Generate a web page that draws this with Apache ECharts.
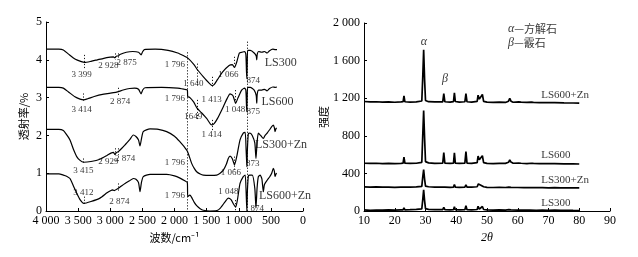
<!DOCTYPE html>
<html><head><meta charset="utf-8">
<script src="https://cdn.jsdelivr.net/npm/echarts@6/dist/echarts.min.js"></script>
<style>html,body{margin:0;padding:0;background:#fff}#c{width:638px;height:257px}</style>
</head><body><div id="c"></div>
<script>
// ---------- FTIR (left) ----------
const irXTicks = [0, 500, 1000, 1500, 2000, 2500, 3000, 3500, 4000];
const irYTicks = [0, 1, 2, 3, 4, 5];
const irLS300 = [[4000,4.28],[3800,4.28],[3730,4.26],[3650,4.15],[3550,4.02],[3450,3.95],[3399,3.93],[3300,3.96],[3200,4.0],[3100,4.04],[3000,4.07],[2950,4.08],[2928,4.05],[2900,4.1],[2875,4.1],[2850,4.14],[2750,4.2],[2650,4.22],[2560,4.2],[2520,4.13],[2500,4.2],[2470,4.27],[2300,4.28],[2100,4.25],[1950,4.18],[1850,4.1],[1796,4.05],[1700,3.88],[1640,3.73],[1550,3.55],[1470,3.4],[1413,3.32],[1380,3.35],[1330,3.48],[1250,3.68],[1150,3.85],[1100,3.87],[1066,3.8],[1030,3.95],[990,4.18],[950,4.2],[910,4.22],[890,4.15],[880,3.7],[874,3.5],[868,3.9],[860,4.25],[820,4.25],[760,4.18],[728,4.1],[720,4.0],[712,4.15],[690,4.22],[640,4.2],[600,4.22],[560,4.18],[520,4.24],[470,4.28],[430,4.27],[405,4.27]];
const irLS600 = [[4000,3.27],[3800,3.27],[3730,3.25],[3650,3.15],[3550,3.02],[3470,2.96],[3414,2.94],[3350,2.97],[3250,3.03],[3100,3.09],[2950,3.13],[2874,3.16],[2800,3.2],[2700,3.24],[2620,3.25],[2560,3.22],[2520,3.1],[2495,3.2],[2460,3.26],[2200,3.27],[1950,3.25],[1850,3.22],[1800,3.2],[1794,3.03],[1760,3.0],[1700,2.88],[1649,2.72],[1580,2.6],[1500,2.45],[1440,2.3],[1414,2.28],[1380,2.32],[1330,2.45],[1240,2.76],[1180,2.98],[1136,3.1],[1090,3.05],[1048,2.85],[1010,3.0],[955,3.2],[910,3.25],[890,3.2],[880,2.8],[875,2.63],[869,3.0],[860,3.27],[820,3.27],[760,3.2],[728,3.05],[720,2.85],[712,3.1],[690,3.2],[640,3.2],[600,3.22],[560,3.18],[520,3.24],[470,3.28],[430,3.27],[405,3.28]];
const irLS300Zn = [[4000,2.16],[3800,2.16],[3730,2.13],[3680,2.02],[3627,1.88],[3570,1.62],[3522,1.44],[3470,1.34],[3415,1.29],[3300,1.31],[3160,1.37],[3050,1.47],[2990,1.53],[2950,1.55],[2929,1.5],[2900,1.55],[2874,1.57],[2820,1.66],[2770,1.75],[2700,1.88],[2641,2.01],[2600,1.97],[2560,1.88],[2537,1.72],[2515,1.9],[2486,2.1],[2381,2.17],[2250,2.16],[2122,2.1],[2000,1.98],[1914,1.83],[1850,1.7],[1796,1.57],[1733,1.26],[1690,1.12],[1655,1.04],[1600,0.98],[1552,0.95],[1450,0.94],[1343,0.95],[1290,1.0],[1240,1.08],[1190,1.25],[1163,1.39],[1136,1.45],[1100,1.38],[1066,1.22],[1030,1.45],[980,1.88],[930,2.06],[900,2.08],[885,1.6],[873,1.17],[866,1.6],[850,2.05],[825,2.06],[790,2.0],[750,1.8],[732,1.39],[715,1.8],[695,2.06],[660,2.0],[617,1.92],[590,2.0],[555,2.07],[520,2.15],[487,2.23],[462,2.27],[445,2.2],[436,2.1],[420,2.18],[410,2.2]];
const irLS600Zn = [[4000,0.98],[3800,0.98],[3730,0.95],[3680,0.92],[3627,0.86],[3570,0.65],[3522,0.47],[3470,0.3],[3412,0.2],[3300,0.25],[3160,0.34],[3050,0.48],[3004,0.53],[2960,0.56],[2940,0.54],[2874,0.6],[2820,0.67],[2770,0.73],[2700,0.8],[2641,0.86],[2600,0.84],[2560,0.75],[2537,0.51],[2515,0.75],[2486,0.91],[2381,0.97],[2122,0.97],[2000,0.93],[1914,0.87],[1840,0.8],[1800,0.75],[1794,0.38],[1760,0.42],[1733,0.36],[1690,0.22],[1655,0.14],[1600,0.06],[1552,0.02],[1450,0.0],[1343,0.01],[1290,0.07],[1210,0.25],[1163,0.34],[1120,0.3],[1080,0.18],[1048,0.1],[1020,0.3],[980,0.73],[930,0.91],[900,0.95],[885,0.5],[874,0.0],[866,0.5],[850,0.93],[825,0.95],[790,0.95],[750,0.6],[732,0.08],[715,0.6],[695,0.91],[667,0.95],[640,0.85],[617,0.51],[600,0.7],[555,0.82],[520,0.9],[487,1.0],[462,1.13],[445,1.05],[436,0.91],[420,0.98],[410,1.0]];
// dotted guide segments: [wavenumber, yFrom, yTo]
const irGuides = [[1796,4.2,0],[874,4.48,0],
  [3399,4.13,3.78],[2928,4.17,4.0],[2875,4.17,4.0],[1640,3.9,3.33],[1413,3.55,3.29],[1066,4.08,3.86],
  [3414,3.11,2.89],[2874,3.26,3.07],[1649,2.94,2.41],[1414,2.41,2.14],[1048,3.2,2.85],
  [3415,1.39,1.26],[2929,1.66,1.48],[2874,1.66,1.48],[1066,1.44,1.08],
  [3412,0.38,0.16],[2874,0.73,0.51],[1048,0.29,0]];
// peak labels: [wavenumber, y, text, align]
const irPeakLabels = [
  [3444,3.6,'3 399','center'],[3030,3.84,'2 928','center'],[2744,3.92,'2 875','center'],[1837,3.86,'1 796','right'],[1707,3.38,'1 640','center'],[1421,2.94,'1 413','center'],[1163,3.6,'1 066','center'],[774,3.45,'874','center'],
  [3444,2.67,'3 414','center'],[2848,2.89,'2 874','center'],[1837,2.98,'1 796','right'],[1707,2.49,'1649','center'],[1421,2.01,'1 414','center'],[1058,2.67,'1 048','center'],[774,2.63,'875','center'],
  [3420,1.07,'3 415','center'],[3030,1.31,'2 929','center'],[2770,1.39,'2 874','center'],[1837,1.28,'1 796','right'],[1121,1.02,'1 066','center'],[783,1.26,'873','center'],
  [3420,0.48,'3 412','center'],[2859,0.26,'2 874','center'],[1837,0.40,'1 796','right'],[1163,0.51,'1 048','center'],[711,0.05,'874','center']];
const irSeriesLabels = [[347,3.92,'LS300'],[397,2.89,'LS600'],[342,1.75,'LS300+Zn'],[280,0.40,'LS600+Zn']];

// ---------- XRD (right) ----------
const xrdXTicks = [10,20,30,40,50,60,70,80,90];
const xrdYTicks = [0,400,800,1200,1600,2000];
const xrdLS300 = [[10,12],[11,10],[12,8],[14,10],[16,9],[18,12],[20,10],[22,12],[22.7,12],[23.0,35],[23.3,12],[25,14],[27,18],[28.8,22],[29.1,120],[29.4,225],[29.7,110],[30.0,25],[31,18],[33,14],[35.6,14],[35.95,40],[36.3,14],[38,12],[39.1,14],[39.4,45],[39.7,14],[41,12],[42.8,14],[43.15,55],[43.5,14],[45,12],[46.8,16],[47.1,50],[47.5,20],[48.1,22],[48.5,48],[48.9,16],[50,12],[52,10],[54,12],[56,10],[57.1,14],[57.4,28],[57.8,12],[60,10],[62,9],[64,10],[66,8],[68,9],[70,7],[72,9],[74,6],[76,8],[78,6],[80,5]];
const xrdLS300Zn = [[10,256],[12,254],[14,256],[16,253],[18,255],[20,252],[22,254],[22.7,254],[23.0,266],[23.3,254],[25,255],[27,256],[28.8,262],[29.1,360],[29.4,440],[29.7,340],[30,265],[31,258],[33,254],[35.6,254],[35.95,275],[36.3,254],[38,252],[39.1,254],[39.4,282],[39.7,254],[41,252],[42.8,254],[43.15,278],[43.5,254],[45,253],[46.8,258],[47.2,288],[47.6,272],[48.0,275],[48.4,288],[48.9,258],[50,252],[52,250],[54,252],[56,250],[57.1,254],[57.4,266],[57.8,252],[60,250],[62,249],[64,250],[66,248],[68,249],[70,247],[72,248],[74,246],[76,247],[78,245],[80,245]];
const xrdLS600 = [[10,508],[12,506],[14,508],[16,505],[18,507],[20,505],[22,507],[22.7,508],[23.0,572],[23.3,508],[25,506],[27,508],[28.8,518],[29.1,800],[29.4,1070],[29.7,780],[30,525],[31,512],[33,507],[35.6,508],[35.95,622],[36.3,508],[38,506],[39.1,510],[39.4,620],[39.7,510],[41,506],[42.8,510],[43.15,632],[43.5,510],[45,506],[46.8,515],[47.1,585],[47.5,545],[48.0,540],[48.5,588],[48.9,515],[50,506],[52,505],[54,506],[56,507],[57.0,518],[57.4,545],[57.8,520],[58.5,508],[60.3,510],[60.7,527],[61.1,508],[63,505],[64.4,508],[64.7,522],[65.1,506],[67,504],[70,503],[72,504],[75,502],[78,502],[80,500]];
const xrdLS600Zn = [[10,1165],[12,1160],[14,1162],[16,1158],[18,1160],[20,1157],[22,1160],[22.7,1162],[23.0,1225],[23.3,1162],[25,1158],[27,1160],[28.8,1170],[29.1,1420],[29.4,1715],[29.7,1400],[30,1175],[31,1163],[33,1160],[35.6,1160],[35.95,1250],[36.3,1162],[38,1158],[39.1,1163],[39.4,1258],[39.7,1165],[41,1158],[42.8,1162],[43.15,1250],[43.5,1162],[45,1158],[46.8,1166],[47.1,1232],[47.5,1190],[48.0,1195],[48.5,1240],[48.9,1166],[50,1158],[52,1156],[54,1158],[56,1155],[57.0,1168],[57.4,1198],[57.8,1168],[58.5,1157],[60.3,1160],[60.7,1180],[61.1,1158],[63,1155],[64.4,1158],[64.7,1170],[65.1,1155],[67,1153],[70,1152],[72,1153],[75,1150],[78,1149],[80,1147]];
const xrdSeriesLabels = [[75.4,1234,'LS600+Zn'],[72.4,596,'LS600'],[75.4,330,'LS300+Zn'],[72.4,88,'LS300']];
const xrdPhaseMarks = [[29.5,1801,'α'],[36.3,1401,'β']];
const xrdLegendText = [[56.8,1936,'α','—方解石'],[56.8,1784,'β','—霰石']];

const SERIF = '"Liberation Serif","DejaVu Serif","Noto Sans CJK SC",serif';
const CJK = '"Noto Sans CJK SC","Liberation Serif",serif';
function thou(v){ v = String(v); return v.length > 3 ? v.slice(0, v.length-3) + ' ' + v.slice(-3) : v; }

const chart = echarts.init(document.getElementById('c'), null, {renderer:'canvas'});
const axisCommon = {
  axisLine:{show:true,onZero:false,lineStyle:{color:'#000',width:1}},
  axisTick:{show:true,inside:true,length:3,lineStyle:{color:'#000'}},
  splitLine:{show:false},
  axisLabel:{color:'#000',fontFamily:SERIF,fontSize:12,margin:4},
  nameTextStyle:{color:'#000',fontFamily:CJK,fontSize:11}
};
const option = {
  animation:false,
  backgroundColor:'#fff',
  grid:[
    {left:46,right:335,top:22,bottom:46},
    {left:364,right:28,top:23,bottom:46}
  ],
  xAxis:[
    Object.assign({}, axisCommon, {gridIndex:0,type:'value',position:'bottom',min:irXTicks[0],max:irXTicks[irXTicks.length-1],interval:500,inverse:true,
      name:'波数/cm⁻¹',nameLocation:'middle',nameGap:20,
      axisLabel:Object.assign({},axisCommon.axisLabel,{formatter:v=>thou(v)})}),
    Object.assign({}, axisCommon, {gridIndex:1,type:'value',position:'bottom',min:xrdXTicks[0],max:xrdXTicks[xrdXTicks.length-1],interval:10,
      name:'2θ',nameLocation:'middle',nameGap:18,
      nameTextStyle:{color:'#000',fontFamily:SERIF,fontSize:12,fontStyle:'italic'}})
  ],
  yAxis:[
    Object.assign({}, axisCommon, {gridIndex:0,type:'value',position:'left',min:irYTicks[0],max:irYTicks[irYTicks.length-1],interval:1,
      name:'透射率/%',nameLocation:'middle',nameGap:17}),
    Object.assign({}, axisCommon, {gridIndex:1,type:'value',position:'left',min:xrdYTicks[0],max:xrdYTicks[xrdYTicks.length-1],interval:400,
      name:'强度',nameLocation:'middle',nameGap:32,
      axisLabel:Object.assign({},axisCommon.axisLabel,{formatter:v=>thou(v)})})
  ],
  series:[]
};
function irLine(d){ return {type:'line',xAxisIndex:0,yAxisIndex:0,data:d,showSymbol:false,symbol:'none',smooth:0.2,
  lineStyle:{color:'#000',width:1.2},silent:true,z:3}; }
function xrdLine(d){ return {type:'line',xAxisIndex:1,yAxisIndex:1,data:d,showSymbol:false,symbol:'none',
  lineStyle:{color:'#000',width:1.7},silent:true,z:3}; }
[irLS300,irLS600,irLS300Zn,irLS600Zn].forEach(d=>option.series.push(irLine(d)));
[xrdLS300,xrdLS300Zn,xrdLS600,xrdLS600Zn].forEach(d=>option.series.push(xrdLine(d)));

// dotted guides
option.series.push({type:'scatter',xAxisIndex:0,yAxisIndex:0,data:[],silent:true,
  markLine:{silent:true,symbol:['none','none'],label:{show:false},animation:false,
    lineStyle:{type:[1.2,1.8],color:'#000',width:0.9},
    data:irGuides.map(g=>[{coord:[g[0],g[1]]},{coord:[g[0],g[2]]}])}});
// peak labels
option.series.push({type:'scatter',xAxisIndex:0,yAxisIndex:0,symbolSize:0,silent:true,clip:false,z:5,
  data:irPeakLabels.map(p=>({value:[p[0],p[1]],name:p[2],label:{align:p[3]}})),
  label:{show:true,position:'inside',formatter:p=>p.name,color:'#000',fontFamily:SERIF,fontSize:9}});
option.series.push({type:'scatter',xAxisIndex:0,yAxisIndex:0,symbolSize:0,silent:true,clip:false,z:5,
  data:irSeriesLabels.map(p=>({value:[p[0],p[1]],name:p[2]})),
  label:{show:true,position:'inside',formatter:p=>p.name,color:'#000',fontFamily:SERIF,fontSize:12}});
option.series.push({type:'scatter',xAxisIndex:1,yAxisIndex:1,symbolSize:0,silent:true,clip:false,z:5,
  data:xrdSeriesLabels.map(p=>({value:[p[0],p[1]],name:p[2]})),
  label:{show:true,position:'inside',formatter:p=>p.name,color:'#000',fontFamily:SERIF,fontSize:11}});
option.series.push({type:'scatter',xAxisIndex:1,yAxisIndex:1,symbolSize:0,silent:true,clip:false,z:5,
  data:xrdPhaseMarks.map(p=>({value:[p[0],p[1]],name:p[2]})),
  label:{show:true,position:'inside',formatter:p=>p.name,color:'#000',fontFamily:SERIF,fontSize:12,fontStyle:'italic'}});
option.series.push({type:'scatter',xAxisIndex:1,yAxisIndex:1,symbolSize:0,silent:true,clip:false,z:5,
  data:xrdLegendText.map(p=>({value:[p[0],p[1]],name:p[2]+'|'+p[3]})),
  label:{show:true,position:'inside',align:'left',
    formatter:p=>{const s=p.name.split('|');return '{i|'+s[0]+'}{c|'+s[1]+'}';},
    rich:{i:{fontFamily:SERIF,fontStyle:'italic',fontSize:12,color:'#000'},c:{fontFamily:CJK,fontSize:11,color:'#000'}}}});
chart.setOption(option);
</script></body></html>
